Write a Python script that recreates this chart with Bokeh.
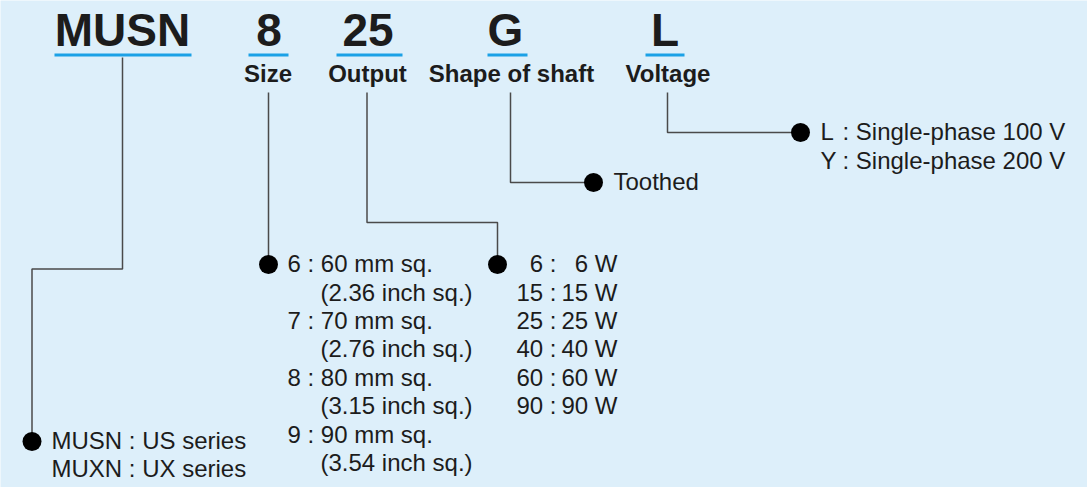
from bokeh.plotting import figure
from bokeh.models import Range1d
from bokeh.core.properties import value
from bokeh.embed import file_html
from bokeh.resources import INLINE

# ---- content ----
code_parts = ["MUSN", "8", "25", "G", "L"]
code_labels = ["", "Size", "Output", "Shape of shaft", "Voltage"]
series_lines = ["MUSN : US series", "MUXN : UX series"]
size_codes = ["6", "7", "8", "9"]
size_mm = ["60 mm sq.", "70 mm sq.", "80 mm sq.", "90 mm sq."]
size_inch = ["(2.36 inch sq.)", "(2.76 inch sq.)", "(3.15 inch sq.)", "(3.54 inch sq.)"]
output_codes = ["6", "15", "25", "40", "60", "90"]
output_watts = ["6 W", "15 W", "25 W", "40 W", "60 W", "90 W"]
shaft_options = ["Toothed"]
voltage_codes = ["L", "Y"]
voltage_text = [": Single-phase 100 V", ": Single-phase 200 V"]

# ---- layout (page pixel coordinates) ----
BG = "#DDEFFA"
BLUE = "#1BA1E6"
INK = "#1c1c1c"
LINE = "#4a4a4a"
FONT = value("Liberation Sans")
K = 0.37  # baseline correction factor for svg text


def bl(y, fs):
    return y - K * fs


p = figure(width=1087, height=487, output_backend="svg", toolbar_location=None,
           x_range=Range1d(0, 1087), y_range=Range1d(487, 0), min_border=0)
p.axis.visible = False
p.grid.visible = False
p.outline_line_color = None
p.background_fill_color = BG
p.border_fill_color = BG

# big code letters
code_cx = [122, 268.5, 367.5, 505, 664.5]
ul_x0 = [54, 248, 336, 487, 645]
ul_x1 = [191, 288, 402, 527, 684]
p.text(x=code_cx, y=[bl(47, 46)] * 5, text=code_parts, text_font=FONT, text_font_style="bold",
       text_font_size="46px", text_align="center", text_baseline="alphabetic", text_color=INK)
p.segment(x0=ul_x0, y0=[54.5] * 5, x1=ul_x1, y1=[54.5] * 5, line_color=BLUE, line_width=3)

# labels under codes
lab_cx = [267.5, 367, 511, 667.5]
p.text(x=lab_cx, y=[bl(82, 24)] * 4, text=code_labels[1:], text_font=FONT, text_font_style="bold",
       text_font_size="24px", text_align="center", text_baseline="alphabetic", text_color=INK)

# connectors
xs = [[122, 122, 31.5, 31.5],
      [268, 268],
      [366.5, 366.5, 497, 497],
      [510, 510, 593],
      [667, 667, 800]]
ys = [[57, 268.5, 268.5, 440],
      [92, 264],
      [92, 222, 222, 264],
      [92, 182, 182],
      [92, 132, 132]]
p.multi_line(xs=xs, ys=ys, line_color=LINE, line_width=1.5)

# dots
p.scatter(x=[31.5, 268, 497, 593, 800], y=[441, 264, 264, 182, 132], size=19,
          fill_color="black", line_color=None)

FS = 24
TXT = dict(text_font=FONT, text_font_size=f"{FS}px", text_baseline="alphabetic", text_color=INK)

# series
p.text(x=[51, 51], y=[bl(449, FS), bl(477, FS)], text=series_lines, text_align="left", **TXT)

# size list
row = 28.4
b0 = 272
size_y = [bl(b0 + 2 * i * row, FS) for i in range(4)]
inch_y = [bl(b0 + (2 * i + 1) * row, FS) for i in range(4)]
p.text(x=[287] * 4, y=size_y, text=[f"{c} : {m}" for c, m in zip(size_codes, size_mm)],
       text_align="left", **TXT)
p.text(x=[320] * 4, y=inch_y, text=size_inch, text_align="left", **TXT)

# output list
out_y = [bl(b0 + i * row, FS) for i in range(6)]
p.text(x=[556] * 6, y=out_y, text=[f"{c} :" for c in output_codes], text_align="right", **TXT)
p.text(x=[617] * 6, y=out_y, text=output_watts, text_align="right", **TXT)

# shaft
p.text(x=[613], y=[bl(190, FS)], text=shaft_options, text_align="left", **TXT)

# voltage
p.text(x=[820, 820], y=[bl(140, FS), bl(169, FS)], text=voltage_codes, text_align="left", **TXT)
p.text(x=[842, 842], y=[bl(140, FS), bl(169, FS)], text=voltage_text, text_align="left", **TXT)

open("out.html", "w").write(file_html(p, INLINE))
